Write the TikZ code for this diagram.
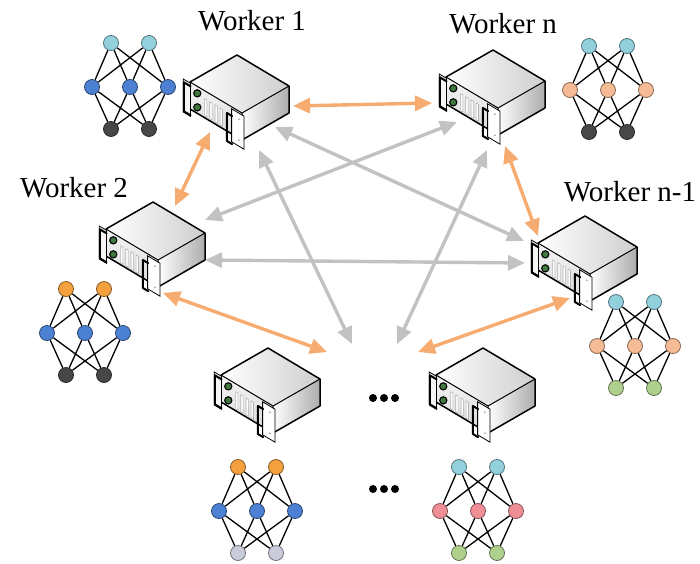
\documentclass[tikz,border=0pt]{standalone}
\usepackage{fontspec}
\setmainfont{Liberation Serif}
\usetikzlibrary{arrows.meta,backgrounds}

\definecolor{arrowOrange}{HTML}{F6AC70}
\definecolor{arrowGray}{HTML}{C2C2C2}
\definecolor{nCyan}{HTML}{92D0DE}
\definecolor{nBlue}{HTML}{4C80D2}
\definecolor{nDark}{HTML}{474747}
\definecolor{nPeach}{HTML}{F5BB94}
\definecolor{nOrange}{HTML}{F4A03E}
\definecolor{nGreen}{HTML}{AED08C}
\definecolor{nPale}{HTML}{C9CCDA}
\definecolor{nPink}{HTML}{F08E96}

\tikzset{
  lbl/.style={font=\fontsize{29}{32}\selectfont, anchor=base, inner sep=0pt},
  neuron/.style={circle, minimum size=15pt, inner sep=0pt, line width=0.8pt},
  link/.style={line width=1.3pt, black},
  oarrow/.style={draw=arrowOrange, line width=3.4pt,
    {Triangle[length=17pt,width=15pt]}-{Triangle[length=17pt,width=15pt]}},
  garrow/.style={draw=arrowGray, line width=3.4pt,
    {Triangle[length=17pt,width=15pt]}-{Triangle[length=17pt,width=15pt]}},
  % rack server drawn from the back corner of its top face
  server/.pic={
    % faces
    \shade[left color=white, right color=gray!38] (-47,27) -- (0,0) -- (52,31) -- (5,58) -- cycle;
    \shade[left color=white, right color=gray!65] (5,58) -- (52,31) -- (52,58) -- (5,85) -- cycle;
    \shade[top color=gray!8, bottom color=gray!30] (-47,27) -- (5,58) -- (5,85) -- (-47,54) -- cycle;
    % outline and edges
    \draw[line width=1.5pt, line join=round]
      (-47,27) -- (0,0) -- (52,31) -- (52,58) -- (5,85) -- (-47,54) -- cycle;
    \draw[line width=1pt, line join=round] (-47,27) -- (5,58) -- (52,31) (5,58) -- (5,85);
    % front panel, in panel coordinates (along the front, down)
    \begin{scope}[shift={(-47,27)}, x={(52pt,-31pt)}, y={(0pt,-1pt)}]
      % drive slots
      \foreach \s in {0.28,0.38,0.48,0.58}
        \filldraw[fill=white, draw=gray!60, line width=0.6pt]
          (\s,8) -- (\s+0.045,8) -- (\s+0.045,25) -- (\s,25) -- cycle;
      % buttons
      \foreach \t in {7,21}
        \filldraw[fill=green!30!black!75, draw=black, line width=1.1pt] (0.14,\t) circle[radius=3.6pt];
      % left ear
      \filldraw[fill=gray!8, draw=black, line width=0.8pt]
        (-0.13,1) -- (0.01,1) -- (0.01,34) -- (-0.13,34) -- cycle;
      \draw[line width=2pt, line join=round, line cap=round]
        (0.01,4) -- (-0.12,4) -- (-0.12,33) -- (0.01,33);
      % right ear
      \filldraw[fill=white, draw=black, line width=0.8pt]
        (0.80,2) -- (1.04,2) -- (1.04,35) -- (0.80,35) -- cycle;
      \draw[line width=2pt, line join=round, line cap=round]
        (0.81,9) -- (0.71,9) -- (0.71,37) -- (0.81,37);
      \fill[gray!70] (0.94,8) circle[radius=1pt] (0.94,29) circle[radius=1pt];
    \end{scope}
  }
}

% neural net: name, centre x, middle row y, input, hidden, output colours
\newcommand\neuralnet[6]{%
  \node[neuron, fill=#4, draw=#4!55!black] (#1t1) at (#2-19,#3-44) {};
  \node[neuron, fill=#4, draw=#4!55!black] (#1t2) at (#2+19,#3-44) {};
  \node[neuron, fill=#5, draw=#5!55!black] (#1m1) at (#2-38,#3) {};
  \node[neuron, fill=#5, draw=#5!55!black] (#1m2) at (#2,#3) {};
  \node[neuron, fill=#5, draw=#5!55!black] (#1m3) at (#2+38,#3) {};
  \node[neuron, fill=#6, draw=#6!55!black] (#1b1) at (#2-19,#3+42) {};
  \node[neuron, fill=#6, draw=#6!55!black] (#1b2) at (#2+19,#3+42) {};
  \begin{scope}[on background layer]
    \foreach \a in {t1,t2,b1,b2}
      \foreach \b in {m1,m2,m3}
        \draw[link] (#1\a) -- (#1\b);
  \end{scope}
}

\begin{document}
\begin{tikzpicture}[x=1pt, y=-1pt]
  \useasboundingbox (0,0) rectangle (700,563);
  \begin{scope}[on background layer]
    \fill[white] (0,0) rectangle (700,563);
  \end{scope}

  % arrow end points beside each server
  \coordinate (o1a) at (293,106); \coordinate (o1b) at (432,103);
  \coordinate (o2a) at (210,132); \coordinate (o2b) at (175,206);
  \coordinate (o3a) at (505,146); \coordinate (o3b) at (538,236);
  \coordinate (o4a) at (163,293); \coordinate (o4b) at (327,352);
  \coordinate (o5a) at (570,298); \coordinate (o5b) at (418,352);
  \coordinate (g1a) at (275,127); \coordinate (g1b) at (524,241);
  \coordinate (g2a) at (457,122); \coordinate (g2b) at (205,220);
  \coordinate (g3a) at (205,260); \coordinate (g3b) at (525,263);
  \coordinate (g4a) at (259,150); \coordinate (g4b) at (352,344);
  \coordinate (g5a) at (487,150); \coordinate (g5b) at (397,344);

  % all-to-all links
  \draw[garrow] (g1a) -- (g1b);
  \draw[garrow] (g2a) -- (g2b);
  \draw[garrow] (g3a) -- (g3b);
  \draw[garrow] (g4a) -- (g4b);
  \draw[garrow] (g5a) -- (g5b);
  % ring links
  \draw[oarrow] (o1a) -- (o1b);
  \draw[oarrow] (o2a) -- (o2b);
  \draw[oarrow] (o3a) -- (o3b);
  \draw[oarrow] (o4a) -- (o4b);
  \draw[oarrow] (o5a) -- (o5b);

  % servers
  \pic (w1)  at (237,55)  {server};
  \pic (wn)  at (493,50)  {server};
  \pic (w2)  at (153,202) {server};
  \pic (wn1) at (585,216) {server};
  \pic (wb1) at (268,348) {server};
  \pic (wb2) at (483,348) {server};

  % labels
  \node[lbl] (l1)  at (252,30)  {Worker 1};
  \node[lbl] (ln)  at (503,33)  {Worker n};
  \node[lbl] (l2)  at (74,197)  {Worker 2};
  \node[lbl] (ln1) at (630,201) {Worker n-1};

  % ellipses
  \foreach \x in {373,384,395} {
    \fill (\x,398) circle[radius=4pt];
    \fill (\x,489) circle[radius=4pt];
  }

  % local models
  \neuralnet{na}{130}{87}{nCyan}{nBlue}{nDark}
  \neuralnet{nb}{608}{90}{nCyan}{nPeach}{nDark}
  \neuralnet{nc}{85}{333}{nOrange}{nBlue}{nDark}
  \neuralnet{nd}{635}{346}{nCyan}{nPeach}{nGreen}
  \neuralnet{ne}{257}{511}{nOrange}{nBlue}{nPale}
  \neuralnet{nf}{478}{511}{nCyan}{nPink}{nGreen}
\end{tikzpicture}
\end{document}
